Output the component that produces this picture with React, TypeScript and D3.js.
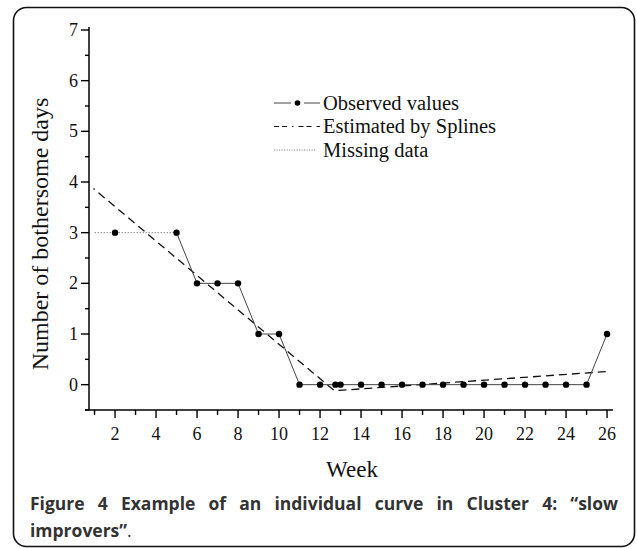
import React, { useLayoutEffect, useRef, useState } from "react";
import * as d3 from "d3";

// ---------- data ----------
const observedWeeks = [2, 5, 6, 7, 8, 9, 10, 11, 12, 12.75, 13, 14, 15, 16, 17, 18, 19, 20, 21, 22, 23, 24, 25, 26];
const observedValues = [3, 3, 2, 2, 2, 1, 1, 0, 0, 0, 0, 0, 0, 0, 0, 0, 0, 0, 0, 0, 0, 0, 0, 1];
const solidFromWeek = 5;
const missingWeeks = [1, 2, 5];
const missingValues = [3, 3, 3];
const splineWeeks = [0.95, 12.7, 26];
const splineValues = [3.87, -0.12, 0.26];
const xMajorTicks = [2, 4, 6, 8, 10, 12, 14, 16, 18, 20, 22, 24, 26];
const xMinorTicks = d3.range(1, 27);
const yMajorTicks = [0, 1, 2, 3, 4, 5, 6, 7];
const yMinorTicks = d3.range(-0.5, 7.01, 0.5);
const legendLabels = ["Observed values", "Estimated by Splines", "Missing data"];
const xTitle = "Week";
const yTitle = "Number of bothersome days";
const captionLine1 = "Figure 4 Example of an individual curve in Cluster 4: \u201cslow";
const captionLine2 = "improvers\u201d";

const W = 637;
const H = 549;
const serif = "'Liberation Serif', 'Times New Roman', serif";
const sans = "'Open Sans', 'Noto Sans', sans-serif";
const CAPTION_WIDTH = 588;

export default function App() {
  const x = d3.scaleLinear().domain([0.73, 26.29]).range([89, 613]);
  const y = d3.scaleLinear().domain([-0.5, 7]).range([410, 30]);

  const capRef = useRef<SVGTextElement>(null);
  const [wordSpacing, setWordSpacing] = useState(0);
  useLayoutEffect(() => {
    const el = capRef.current;
    if (!el) return;
    const natural = el.getComputedTextLength();
    const spaces = captionLine1.split(" ").length - 1;
    setWordSpacing(Math.max(0, (CAPTION_WIDTH - natural) / spaces));
  }, []);

  const line = d3
    .line<[number, number]>()
    .x((d) => x(d[0]))
    .y((d) => y(d[1]));

  const obsPts: [number, number][] = observedWeeks.map((w, i) => [w, observedValues[i]]);
  const solidPts = obsPts.filter((p) => p[0] >= solidFromWeek);
  const missPts: [number, number][] = missingWeeks.map((w, i) => [w, missingValues[i]]);
  const splinePts: [number, number][] = splineWeeks.map((w, i) => [w, splineValues[i]]);

  const legendX0 = 274;
  const legendX1 = 320;
  const legendTextX = 323;
  const legendY = [103, 126.5, 150];

  return (
    <svg
      width={W}
      height={H}
      style={{ position: "absolute", left: 0, top: 0, background: "#fff" }}
    >
      <rect x={0} y={0} width={W} height={H} fill="#fff" />
      <rect x={13.5} y={7.5} width={621} height={539} rx={13} ry={13} fill="none" stroke="#111" strokeWidth={1.6} />

      {/* axes */}
      <line x1={89} x2={89} y1={27} y2={y(-0.5)} stroke="#000" strokeWidth={1.5} />
      <line x1={85} x2={613} y1={y(-0.5)} y2={y(-0.5)} stroke="#000" strokeWidth={1.5} />

      {yMinorTicks.map((t) => (
        <line key={"ym" + t} x1={89} x2={yMajorTicks.includes(t) ? 81 : 85} y1={y(t)} y2={y(t)} stroke="#000" strokeWidth={1.4} />
      ))}
      {yMajorTicks.map((t) => (
        <text key={"yl" + t} x={78} y={y(t) + 6} textAnchor="end" fontFamily={serif} fontSize={18} fill="#111">
          {t}
        </text>
      ))}

      {xMinorTicks.map((t) => (
        <line key={"xm" + t} x1={x(t)} x2={x(t)} y1={y(-0.5)} y2={y(-0.5) + (xMajorTicks.includes(t) ? 8 : 5)} stroke="#000" strokeWidth={1.4} />
      ))}
      {xMajorTicks.map((t) => (
        <text key={"xl" + t} x={x(t)} y={440} textAnchor="middle" fontFamily={serif} fontSize={18} fill="#111">
          {t}
        </text>
      ))}

      <text x={352} y={477} textAnchor="middle" fontFamily={serif} fontSize={23} fill="#111">
        {xTitle}
      </text>
      <text transform="translate(48,234) rotate(-90)" textAnchor="middle" fontFamily={serif} fontSize={24} fill="#111">
        {yTitle}
      </text>

      {/* missing data dotted */}
      <path d={line(missPts) || ""} fill="none" stroke="#888" strokeWidth={1} strokeDasharray="1.5,1.5" />
      {/* spline */}
      <path d={line(splinePts) || ""} fill="none" stroke="#111" strokeWidth={1.3} strokeDasharray="8,5" strokeDashoffset={6.5} />
      {/* observed */}
      <path d={line(solidPts) || ""} fill="none" stroke="#444" strokeWidth={1} />
      {obsPts.map((p, i) => (
        <circle key={"pt" + i} cx={x(p[0])} cy={y(p[1])} r={3.2} fill="#000" />
      ))}

      {/* legend */}
      <line x1={legendX0} x2={291} y1={legendY[0]} y2={legendY[0]} stroke="#444" strokeWidth={1} />
      <line x1={304} x2={legendX1} y1={legendY[0]} y2={legendY[0]} stroke="#444" strokeWidth={1} />
      <circle cx={297.5} cy={legendY[0]} r={2.8} fill="#000" />
      <line x1={legendX0} x2={legendX1} y1={legendY[1]} y2={legendY[1]} stroke="#111" strokeWidth={1.2} strokeDasharray="5,3,5,5,1.5,5,5,3,5,5" />
      <line x1={legendX0} x2={316} y1={legendY[2]} y2={legendY[2]} stroke="#888" strokeWidth={1} strokeDasharray="1.2,1.3" />
      {legendLabels.map((l, i) => (
        <text key={l} x={legendTextX} y={legendY[i] + 6.5} fontFamily={serif} fontSize={20.5} fill="#111">
          {l}
        </text>
      ))}

      {/* caption */}
      <text ref={capRef} x={30} y={510} fontFamily={sans} fontSize={17.5} fontWeight={700} fill="#333" wordSpacing={wordSpacing}>
        {captionLine1}
      </text>
      <text x={30} y={537} fontFamily={sans} fontSize={17.5} fill="#333">
        <tspan fontWeight={700}>{captionLine2}</tspan>
        <tspan>.</tspan>
      </text>
    </svg>
  );
}
